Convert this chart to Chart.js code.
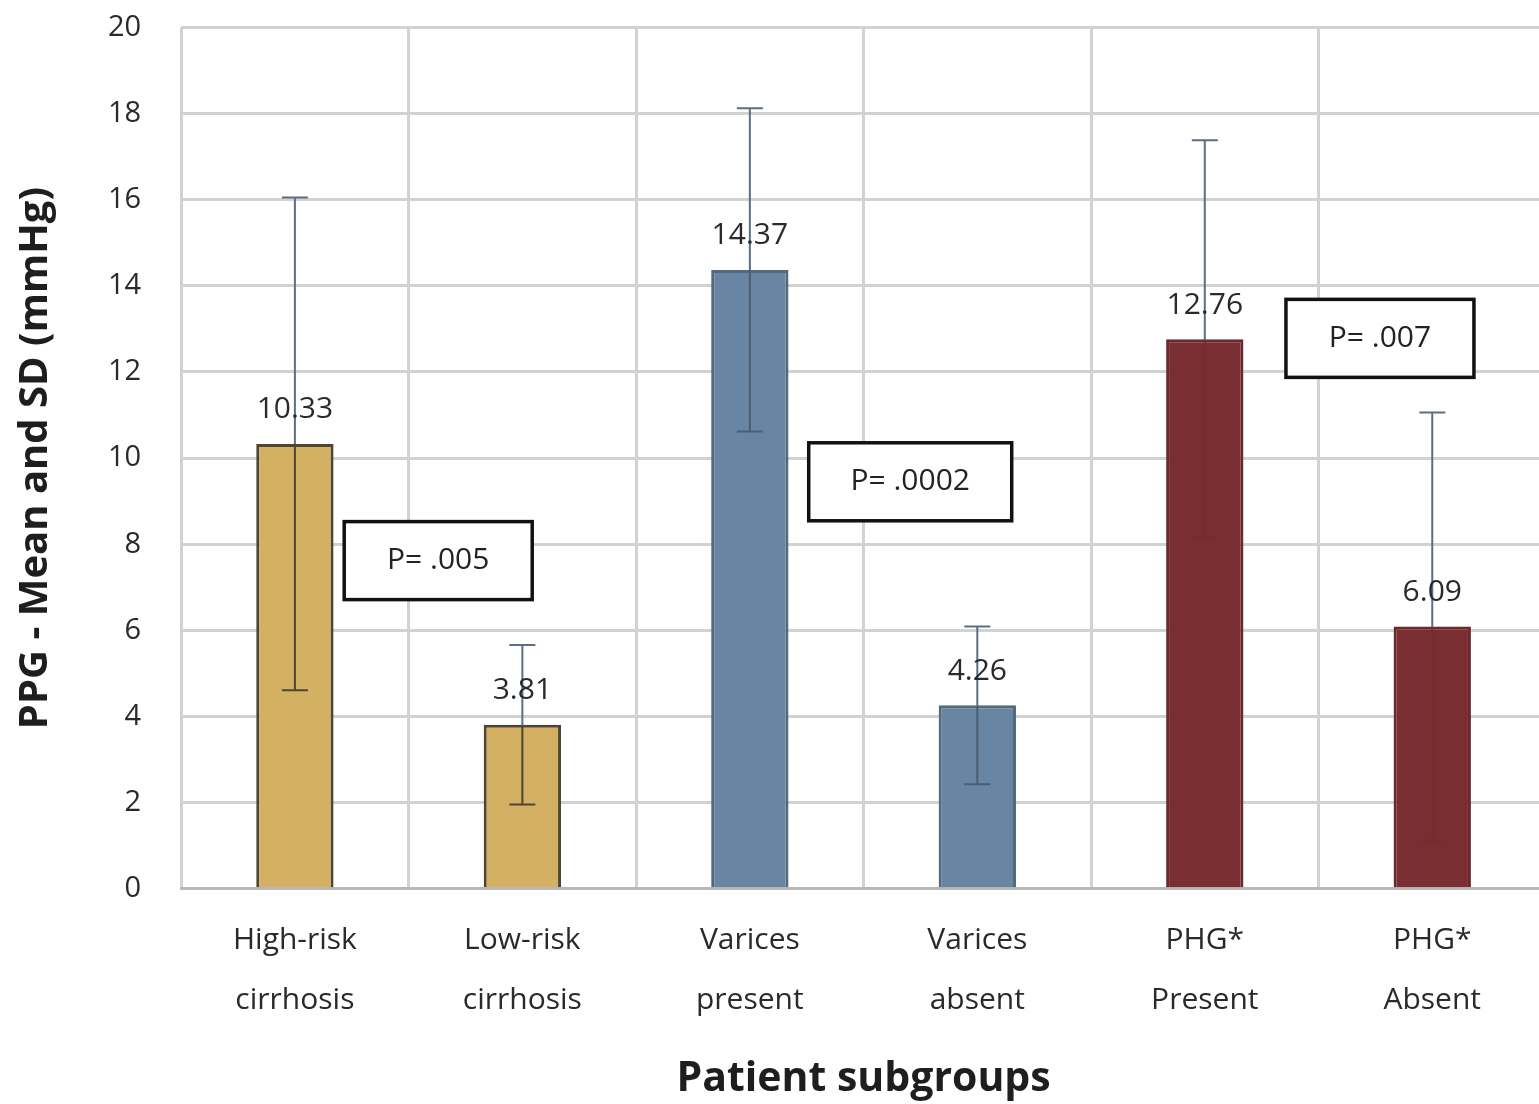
<!DOCTYPE html>
<html>
<head>
<meta charset="utf-8">
<script src="https://cdn.jsdelivr.net/npm/chart.js@4"></script>
<style>
  html, body { margin: 0; padding: 0; background: #fff; overflow: hidden; }
  canvas { display: block; margin-top: -30px; }
</style>
</head>
<body>
<canvas id="chart" width="1546" height="1134"></canvas>
<script>
// Categorie e valori (media e deviazione standard)
const categories = [
  ["High-risk", "cirrhosis"],
  ["Low-risk", "cirrhosis"],
  ["Varices", "present"],
  ["Varices", "absent"],
  ["PHG*", "Present"],
  ["PHG*", "Absent"],
];
const means = [10.33, 3.81, 14.37, 4.26, 12.76, 6.09];
const sds = [5.72, 1.85, 3.75, 1.83, 4.62, 4.97];
const barColors = ["#d4b062", "#d4b062", "#6886a3", "#6886a3", "#7a2e31", "#7a2e31"];
const barBorders = ["#4f4535", "#4f4535", "#55697e", "#55697e", "#6a2a2d", "#6a2a2d"];
// colore della barra di errore dentro la barra (sul rosso quasi invisibile)
const innerErr = ["#4f4535", "#4f4535", "#4a5d72", "#4a5d72", "#742d30", "#742d30"];
const yTicks = [0, 2, 4, 6, 8, 10, 12, 14, 16, 18, 20];

// Riquadri con i valori di P (posizione in coordinate del grafico)
const pLabels = ["P= .005", "P= .0002", "P= .007"];
const pX = [0.63, 2.705, 4.77];
const pY = [7.62, 9.45, 12.78];
const pW = [188, 203, 188];

const FONT = "'Open Sans', 'Noto Sans', sans-serif";

// Barre di errore + etichette dei valori + riquadri P
const errorBars = {
  id: "errorBars",
  afterDatasetsDraw(chart) {
    const c = chart.ctx;
    const meta = chart.getDatasetMeta(0);
    const y = chart.scales.y;
    c.save();
    meta.data.forEach((bar, i) => {
      const x = bar.x;
      const top = y.getPixelForValue(means[i] + sds[i]);
      const bottom = y.getPixelForValue(means[i] - sds[i]);
      const mid = y.getPixelForValue(means[i]);
      c.lineWidth = 2;
      // parte sopra la barra
      c.strokeStyle = "#5b6f84";
      c.beginPath();
      c.moveTo(x, mid);
      c.lineTo(x, top);
      c.moveTo(x - 13, top);
      c.lineTo(x + 13, top);
      c.stroke();
      // parte dentro la barra
      c.strokeStyle = innerErr[i];
      c.beginPath();
      c.moveTo(x, mid);
      c.lineTo(x, bottom);
      c.moveTo(x - 13, bottom);
      c.lineTo(x + 13, bottom);
      c.stroke();
    });
    // valori sopra le barre
    c.fillStyle = "#2a2a2a";
    c.font = "30px " + FONT;
    c.textAlign = "center";
    c.textBaseline = "middle";
    meta.data.forEach((bar, i) => {
      c.fillText(means[i].toFixed(2), bar.x, bar.y - 34);
    });
    // riquadri P
    const xs = chart.scales.x;
    pLabels.forEach((t, i) => {
      const cx = xs.getPixelForValue(pX[i]);
      const cy = y.getPixelForValue(pY[i]);
      const w = pW[i], h = 78;
      c.fillStyle = "#fff";
      c.fillRect(cx - w / 2, cy - h / 2, w, h);
      c.strokeStyle = "#111";
      c.lineWidth = 3.5;
      c.strokeRect(cx - w / 2, cy - h / 2, w, h);
      c.fillStyle = "#222";
      c.fillText(t, cx, cy);
    });
    c.restore();
  },
};

const ctx = document.getElementById("chart").getContext("2d");
new Chart(ctx, {
  type: "bar",
  data: {
    labels: categories,
    datasets: [
      {
        data: means,
        backgroundColor: barColors,
        borderColor: barBorders,
        borderWidth: 3,
        barPercentage: 0.34,
        categoryPercentage: 1,
      },
    ],
  },
  options: {
    responsive: false,
    animation: false,
    layout: { padding: { top: 12, right: 0, left: 12, bottom: 0 } },
    plugins: {
      legend: { display: false },
      tooltip: { enabled: false },
    },
    scales: {
      x: {
        grid: {
          offset: true,
          color: "#d2d2d2",
          lineWidth: 3,
          drawTicks: false,
        },
        border: { color: "#b8b8b8", width: 3 },
        ticks: {
          color: "#2a2a2a",
          font: { family: FONT, size: 30, lineHeight: 2 },
          padding: 22,
          maxRotation: 0,
        },
        title: {
          display: true,
          text: "Patient subgroups",
          color: "#1e1e1e",
          font: { family: FONT, size: 41, weight: "bold" },
          padding: { top: 2, bottom: 0 },
        },
      },
      y: {
        min: 0,
        max: 20,
        afterBuildTicks(axis) {
          axis.ticks = yTicks.map((v) => ({ value: v }));
        },
        grid: { color: "#d2d2d2", lineWidth: 3, drawTicks: false },
        border: { display: false },
        ticks: {
          color: "#2a2a2a",
          font: { family: FONT, size: 29 },
          padding: 40,
        },
        title: {
          display: true,
          text: "PPG - Mean and SD (mmHg)",
          color: "#1e1e1e",
          font: { family: FONT, size: 40, weight: "bold" },
          padding: { top: 0, bottom: 8 },
        },
      },
    },
  },
  plugins: [errorBars],
});
</script>
</body>
</html>
